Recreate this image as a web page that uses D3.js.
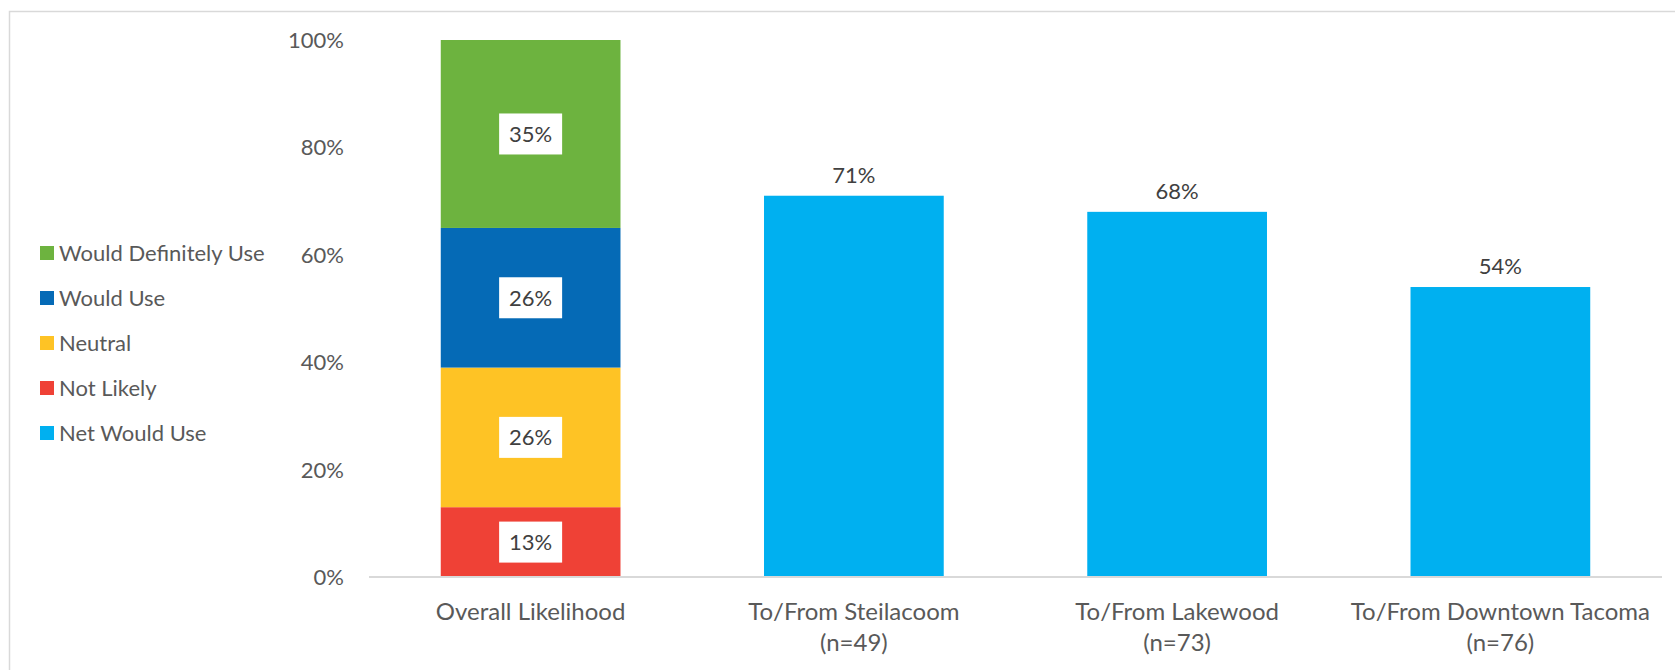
<!DOCTYPE html>
<html>
<head>
<meta charset="utf-8">
<script src="https://cdn.jsdelivr.net/npm/d3@7"></script>
<style>
  body { margin: 0; background: #fff; }
  text { font-family: Lato, "Open Sans", sans-serif; fill: #595959; }
</style>
</head>
<body>
<div id="main"></div>
<script>
var categories = ['Overall Likelihood', 'To/From Steilacoom', 'To/From Lakewood', 'To/From Downtown Tacoma'];
var sampleSizes = ['', '(n=49)', '(n=73)', '(n=76)'];

// stacked segments of the first column, bottom to top
var stackSeries = ['Not Likely', 'Neutral', 'Would Use', 'Would Definitely Use'];
var stackValues = [13, 26, 26, 35];

// net would use for the other columns
var netCategories = ['To/From Steilacoom', 'To/From Lakewood', 'To/From Downtown Tacoma'];
var netValues = [71, 68, 54];

var legendItems = ['Would Definitely Use', 'Would Use', 'Neutral', 'Not Likely', 'Net Would Use'];
var yTicks = [0, 20, 40, 60, 80, 100];

var colors = {
  'Would Definitely Use': '#6db33f',
  'Would Use': '#056ab6',
  'Neutral': '#fec325',
  'Not Likely': '#ef4136',
  'Net Would Use': '#00b0f0'
};

var width = 1675;
var height = 670;

var svg = d3.select('#main').append('svg').attr('width', width).attr('height', height);

// chart frame
svg.append('rect')
  .attr('x', 9.5).attr('y', 11.5)
  .attr('width', width + 20).attr('height', height + 20)
  .attr('fill', 'none')
  .attr('stroke', '#d9d9d9')
  .attr('stroke-width', 1.5);

var x = d3.scaleBand().domain(categories).range([369, 1662]).paddingInner(0.444).paddingOuter(0.222);
var y = d3.scaleLinear().domain([0, 100]).range([577, 40]);

// y axis labels
svg.selectAll('.ytick')
  .data(yTicks)
  .enter()
  .append('text')
  .attr('x', 344)
  .attr('y', function (d) { return y(d); })
  .attr('dy', '0.36em')
  .attr('text-anchor', 'end')
  .attr('font-size', 22)
  .text(function (d) { return d + '%'; });

// stacked column
var stacked = [];
var acc = 0;
stackValues.forEach(function (v, i) {
  stacked.push({ name: stackSeries[i], v0: acc, v1: acc + v, value: v });
  acc += v;
});

svg.selectAll('.seg')
  .data(stacked)
  .enter()
  .append('rect')
  .attr('x', x(categories[0]))
  .attr('width', x.bandwidth())
  .attr('y', function (d) { return y(d.v1); })
  .attr('height', function (d) { return y(d.v0) - y(d.v1); })
  .attr('fill', function (d) { return colors[d.name]; });

var segLabels = svg.selectAll('.seglabel')
  .data(stacked)
  .enter()
  .append('g')
  .attr('transform', function (d) {
    return 'translate(' + (x(categories[0]) + x.bandwidth() / 2) + ',' + y((d.v0 + d.v1) / 2) + ')';
  });

segLabels.append('rect')
  .attr('x', -31.5).attr('y', -20.5)
  .attr('width', 63).attr('height', 41)
  .attr('fill', '#fff');

segLabels.append('text')
  .attr('text-anchor', 'middle')
  .attr('dy', '0.36em')
  .attr('font-size', 22)
  .style('fill', '#404040')
  .text(function (d) { return d.value + '%'; });

// net would use columns
svg.selectAll('.net')
  .data(netValues)
  .enter()
  .append('rect')
  .attr('x', function (d, i) { return x(netCategories[i]); })
  .attr('width', x.bandwidth())
  .attr('y', function (d) { return y(d); })
  .attr('height', function (d) { return y(0) - y(d); })
  .attr('fill', colors['Net Would Use']);

svg.selectAll('.netlabel')
  .data(netValues)
  .enter()
  .append('text')
  .attr('x', function (d, i) { return x(netCategories[i]) + x.bandwidth() / 2; })
  .attr('y', function (d) { return y(d) - 21; })
  .attr('dy', '0.36em')
  .attr('text-anchor', 'middle')
  .attr('font-size', 22)
  .style('fill', '#404040')
  .text(function (d) { return d + '%'; });

// baseline
svg.append('line')
  .attr('x1', 369).attr('x2', 1662)
  .attr('y1', y(0)).attr('y2', y(0))
  .attr('stroke', '#d9d9d9')
  .attr('stroke-width', 2);

// category labels
categories.forEach(function (c, i) {
  var cx = x(c) + x.bandwidth() / 2;
  svg.append('text')
    .attr('x', cx).attr('y', 620)
    .attr('text-anchor', 'middle')
    .attr('font-size', 24)
    .text(c);
  if (sampleSizes[i]) {
    svg.append('text')
      .attr('x', cx).attr('y', 651)
      .attr('text-anchor', 'middle')
      .attr('font-size', 24)
      .text(sampleSizes[i]);
  }
});

// legend
var legend = svg.selectAll('.legend')
  .data(legendItems)
  .enter()
  .append('g')
  .attr('transform', function (d, i) { return 'translate(40,' + (253 + i * 45) + ')'; });

legend.append('rect')
  .attr('x', 0).attr('y', -7)
  .attr('width', 14).attr('height', 14)
  .attr('fill', function (d) { return colors[d]; });

legend.append('text')
  .attr('x', 19).attr('y', 0)
  .attr('dy', '0.36em')
  .attr('font-size', 22)
  .text(function (d) { return d; });
</script>
</body>
</html>
